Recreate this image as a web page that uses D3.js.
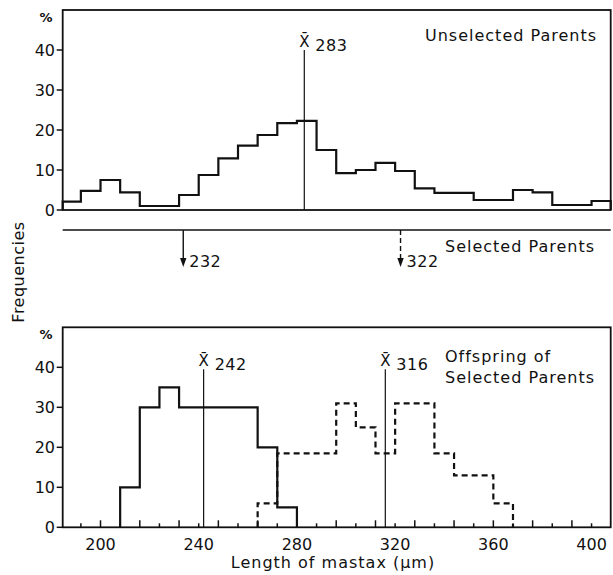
<!DOCTYPE html>
<html lang="en">
<head>
    <meta charset="UTF-8">
    <title>Length of mastax - selection</title>
    <style>
        body { margin: 0; background: #fff; }
        text { font-family: "DejaVu Sans", sans-serif; fill: #111; }
        .frame { fill: none; stroke: #111; stroke-width: 1.8px; }
        .hist { fill: none; stroke: #111; stroke-width: 2.2px; }
        .hist.dashed { stroke-dasharray: 6 4; }
        .mean { stroke: #111; stroke-width: 1.2px; }
        .tick { stroke: #111; stroke-width: 1.5px; }
    </style>
    <script src="https://d3js.org/d3.v7.min.js"></script>
</head>
<body>
    <svg width="613" height="575"></svg>
    <script>
        // Histogram classes are 8 µm wide, values in %
        const binWidth = 8;

        const unselectedBins = [184, 192, 200, 208, 216, 224, 232, 240, 248, 256, 264, 272, 280, 288,
                                296, 304, 312, 320, 328, 336, 344, 352, 360, 368, 376, 384, 392, 400];
        const unselectedPct = [2.1, 4.8, 7.5, 4.4, 1.0, 1.0, 3.75, 8.75, 12.9, 16.1, 18.75, 21.7, 22.3, 15,
                               9.2, 10, 11.8, 9.75, 5.4, 4.3, 4.3, 2.5, 2.5, 5, 4.4, 1.25, 1.25, 2.25];

        const smallOffspringBins = [208, 216, 224, 232, 240, 248, 256, 264, 272];
        const smallOffspringPct = [10, 30, 35, 30, 30, 30, 30, 20, 5];

        const largeOffspringBins = [264, 272, 280, 288, 296, 304, 312, 320, 328, 336, 344, 352, 360];
        const largeOffspringPct = [6, 18.5, 18.5, 18.5, 31, 25, 18.5, 31, 31, 18.5, 13, 13, 6];

        const topMeans = [283];
        const bottomMeans = [242, 316];

        // selected parents: where the arrows sit, and what they are labelled
        const selectedAt = [233.7, 322.2];
        const selectedLabels = ["232", "322"];
        const selectedDashed = [false, true];

        const yTicks = [0, 10, 20, 30, 40];
        const xTickLabels = [200, 240, 280, 320, 360, 400];
        const xMinorTicks = d3.range(192, 401, 8);

        const svg = d3.select("svg");

        // shared x scale, both panels
        const x = d3.scaleLinear().domain([184.6, 407.8]).range([62.7, 610.7]).clamp(true);
        const yTop = d3.scaleLinear().domain([0, 50]).range([210, 10]);
        const yBot = d3.scaleLinear().domain([0, 50]).range([527.3, 327.3]);

        function stepPoints(bins, vals) {
            const pts = [[bins[0], 0]];
            vals.forEach((v, i) => {
                pts.push([bins[i], v]);
                pts.push([bins[i] + binWidth, v]);
            });
            pts.push([bins[bins.length - 1] + binWidth, 0]);
            return pts;
        }

        function drawPanel(y, name) {
            const g = svg.append("g").attr("class", name);
            g.append("rect").attr("class", "frame")
                .attr("x", x.range()[0]).attr("y", y(50))
                .attr("width", x.range()[1] - x.range()[0])
                .attr("height", y(0) - y(50));

            // y ticks, outside the frame
            g.selectAll(".ytick").data(yTicks).enter().append("line")
                .attr("class", "tick")
                .attr("x1", x.range()[0] - 6).attr("x2", x.range()[0])
                .attr("y1", d => y(d)).attr("y2", d => y(d));
            g.selectAll(".ylab").data(yTicks).enter().append("text")
                .attr("x", 55).attr("y", d => y(d)).attr("dy", "0.36em")
                .attr("text-anchor", "end").style("font-size", "16px")
                .text(d => d);
            g.append("text").attr("x", 46).attr("y", y(50) + 12)
                .attr("text-anchor", "middle").style("font-size", "13px").style("font-weight", "bold")
                .text("%");
            return g;
        }

        function drawMeans(g, y, means, top) {
            g.selectAll(".mean").data(means).enter().append("line")
                .attr("class", "mean")
                .attr("x1", d => x(d)).attr("x2", d => x(d))
                .attr("y1", y(top)).attr("y2", y(0));
            g.selectAll(".xbar").data(means).enter().append("text")
                .attr("x", d => x(d)).attr("y", y(top) - 3)
                .attr("text-anchor", "middle").style("font-size", "15px")
                .text("X\u0304");
            g.selectAll(".mlab").data(means).enter().append("text")
                .attr("x", d => x(d) + 11).attr("y", y(top) + 1)
                .style("font-size", "16px").style("letter-spacing", "0.5px")
                .text(d => d);
        }

        const line = y => d3.line().x(d => x(d[0])).y(d => y(d[1]));

        // ---- top panel: unselected parents
        const gTop = drawPanel(yTop, "top");
        gTop.append("path").attr("class", "hist")
            .attr("d", line(yTop)(stepPoints(unselectedBins, unselectedPct)));
        drawMeans(gTop, yTop, topMeans, 40);
        gTop.append("text").attr("x", 425).attr("y", 40.7)
            .style("font-size", "16px").style("letter-spacing", "1px")
            .text("Unselected Parents");

        // ---- selected parents strip
        const selY = 230;
        const gSel = svg.append("g");
        gSel.append("line").attr("class", "tick")
            .attr("x1", x.range()[0]).attr("x2", x.range()[1])
            .attr("y1", selY).attr("y2", selY);
        selectedAt.forEach((v, i) => {
            gSel.append("line").attr("class", "mean")
                .attr("x1", x(v)).attr("x2", x(v))
                .attr("y1", selY).attr("y2", 260)
                .style("stroke-width", "1.4px")
                .style("stroke-dasharray", selectedDashed[i] ? "5 3" : null);
            gSel.append("path")
                .attr("d", `M${x(v) - 3.2},258 L${x(v) + 3.2},258 L${x(v)},267 Z`)
                .attr("fill", "#111");
            gSel.append("text").attr("x", x(v) + 6).attr("y", 266.7)
                .style("font-size", "16px").style("letter-spacing", "0.5px")
                .text(selectedLabels[i]);
        });
        gSel.append("text").attr("x", 445).attr("y", 252)
            .style("font-size", "16px").style("letter-spacing", "1px")
            .text("Selected Parents");

        // ---- bottom panel: offspring
        const gBot = drawPanel(yBot, "bottom");
        gBot.selectAll(".xtick").data(xMinorTicks).enter().append("line")
            .attr("class", "tick")
            .attr("x1", d => x(d)).attr("x2", d => x(d))
            .attr("y1", yBot(0)).attr("y2", d => yBot(0) - ((d - 200) % 16 === 0 ? 7 : 4));
        gBot.selectAll(".xlab").data(xTickLabels).enter().append("text")
            .attr("x", d => x(d)).attr("y", 550)
            .attr("text-anchor", "middle").style("font-size", "16px")
            .text(d => d);
        gBot.append("path").attr("class", "hist dashed")
            .attr("d", line(yBot)(stepPoints(largeOffspringBins, largeOffspringPct)));
        gBot.append("path").attr("class", "hist")
            .attr("d", line(yBot)(stepPoints(smallOffspringBins, smallOffspringPct)));
        drawMeans(gBot, yBot, bottomMeans, 39.5);
        gBot.append("text").attr("x", 445).attr("y", 361.7)
            .style("font-size", "16px").style("letter-spacing", "1px")
            .text("Offspring of");
        gBot.append("text").attr("x", 445).attr("y", 382.7)
            .style("font-size", "16px").style("letter-spacing", "1px")
            .text("Selected Parents");

        // axis titles
        svg.append("text").attr("x", 333).attr("y", 568)
            .attr("text-anchor", "middle").style("font-size", "16px").style("letter-spacing", "1px")
            .text("Length of mastax (µm)");
        svg.append("text").attr("transform", "translate(24,272) rotate(-90)")
            .attr("text-anchor", "middle").style("font-size", "16px").style("letter-spacing", "0.5px")
            .text("Frequencies");
    </script>
</body>
</html>
